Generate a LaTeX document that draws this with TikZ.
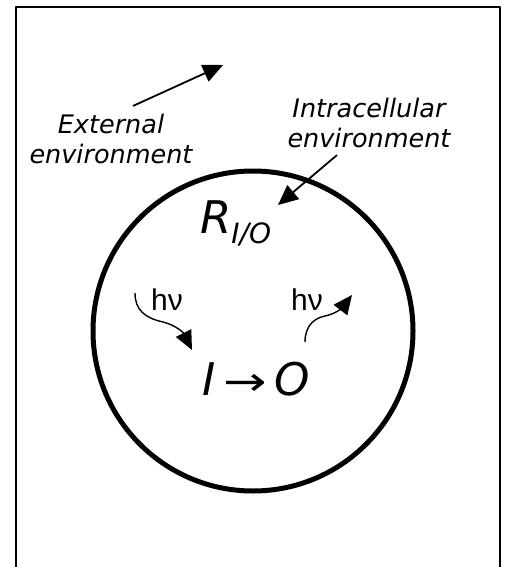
\documentclass[tikz,border=0pt]{standalone}
\usepackage{fontspec}
\setmainfont{DejaVu Sans}
\newfontfamily\photonfont{Liberation Sans}
\usetikzlibrary{arrows.meta}

\tikzset{
  envtext/.style={font=\fontsize{25.5}{30}\selectfont\itshape, align=center, inner sep=0pt},
  bigtext/.style={font=\fontsize{45}{45}\selectfont\itshape, inner sep=0pt},
  photon/.style={font=\photonfont\fontsize{30}{30}\selectfont, inner sep=0pt},
  pointer/.style={line width=1.8pt, -{Triangle[length=20pt,width=18pt]}},
  wiggle/.style={line width=1.4pt, -{Triangle[length=19pt,width=17pt]}},
}

\begin{document}
\begin{tikzpicture}[x=1pt, y=-1pt, line join=round]
  \useasboundingbox (0,0) rectangle (507,567);
  % Rahmen (unten offen)
  \draw[line width=2pt] (16,567) -- (16,7) -- (500,7) -- (500,567);
  % Zelle
  \draw[line width=5pt] (253,331) circle (160);
  % Beschriftungen
  \node[envtext] (ext) at (111,139) {External\\environment};
  \node[envtext] (int) at (369,123) {Intracellular\\environment};
  \node[bigtext, anchor=base west] (recv) at (200,233)
    {R\raisebox{-10pt}{\fontsize{28}{28}\selectfont I/O}};
  \node[bigtext, anchor=base] (react) at (256,395)
    {I\,{\upshape\fontsize{40}{40}\selectfont\scalebox{1.3}[1]{→}}\,O};
  \node[photon, anchor=base] (hvin) at (167,310) {hν};
  \node[photon, anchor=base] (hvout) at (307,310) {hν};
  % Pfeile
  \coordinate (outer) at (223,65);
  \coordinate (inner) at (278,205);
  \draw[pointer] ([shift={(22,-8)}]ext.north) -- (outer);
  \draw[pointer] ([shift={(-32,7)}]int.south) -- (inner);
  % Photonen
  \coordinate (absorb) at (135,293);
  \coordinate (absorbtip) at (192,350);
  \coordinate (emit) at (305,342);
  \coordinate (emittip) at (352,295);
  \draw[wiggle] (absorb) .. controls (135,310) and (145,318) .. (163,322)
    .. controls (175,325) and (183,332) .. (absorbtip);
  \draw[wiggle] (emit) .. controls (305,325) and (315,318) .. (325,316)
    .. controls (335,314) and (342,308) .. (emittip);
\end{tikzpicture}
\end{document}
